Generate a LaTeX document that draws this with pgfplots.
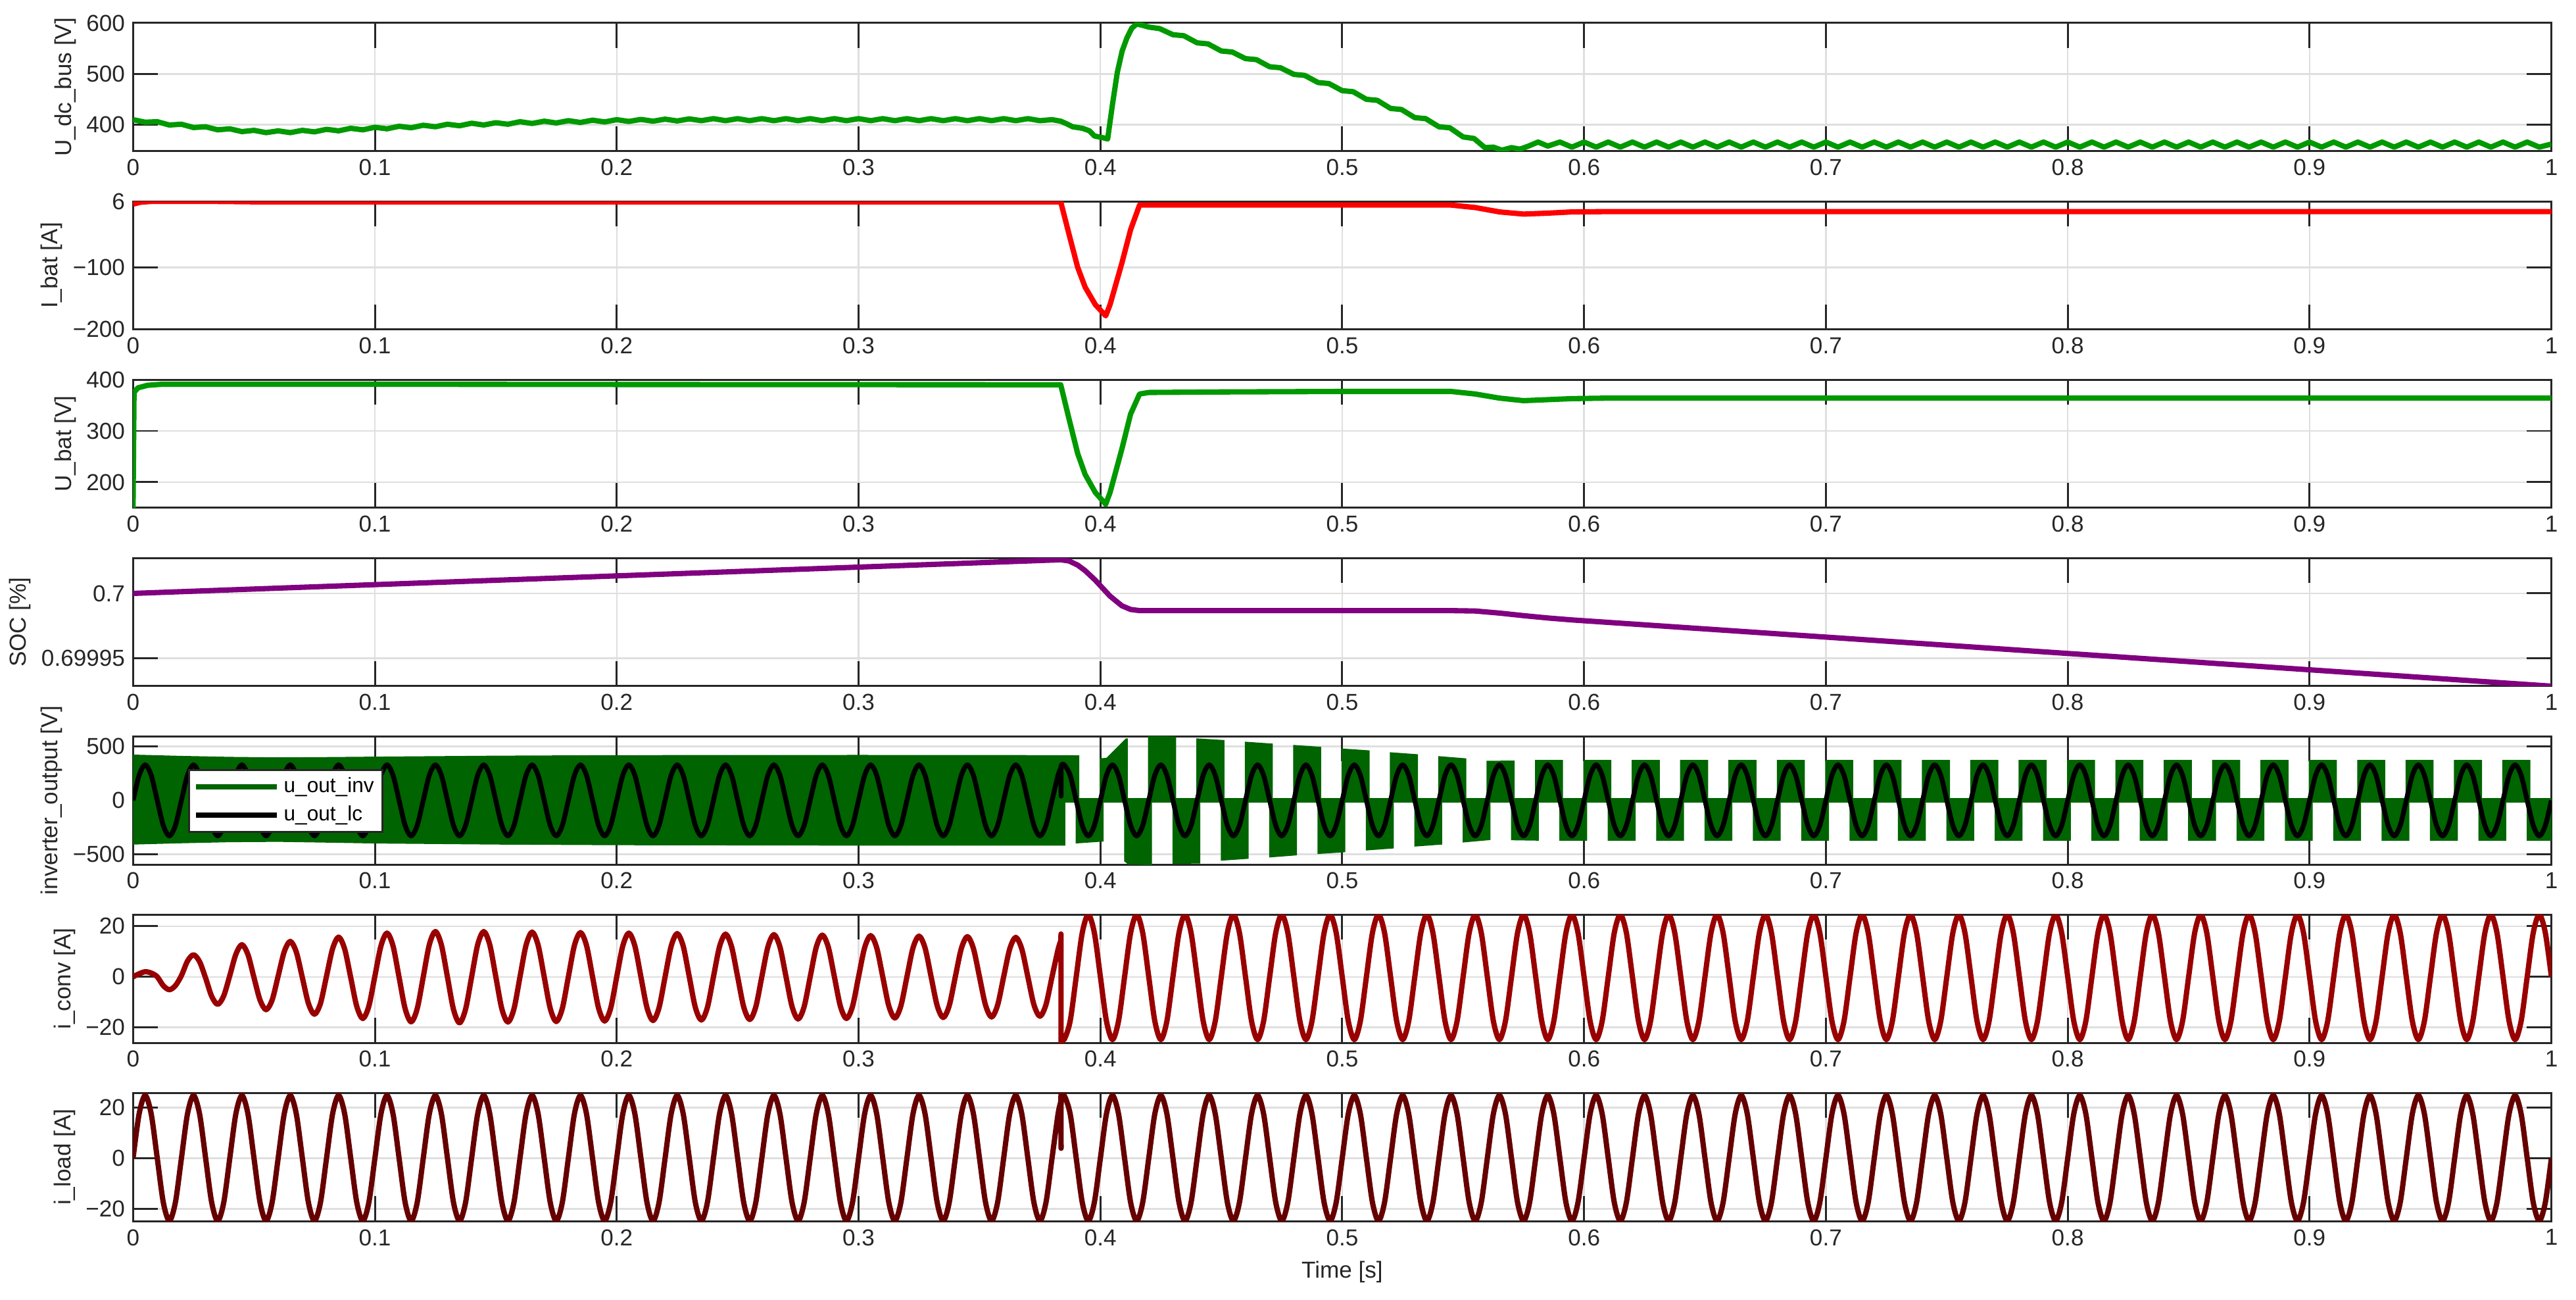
\documentclass[border=0pt]{standalone}
\usepackage{fontspec}
\setmainfont{Liberation Sans}
\usepackage{pgfplots}
\pgfplotsset{compat=1.18}
\usepackage{pgfplotstable}

\definecolor{axgray}{RGB}{38,38,38}
\definecolor{gridgray}{RGB}{223,223,223}
\definecolor{dcgreen}{RGB}{0,153,0}
\definecolor{batred}{RGB}{255,0,0}
\definecolor{socpurple}{RGB}{128,0,128}
\definecolor{invgreen}{RGB}{0,100,0}
\definecolor{convred}{RGB}{153,0,0}
\definecolor{loadred}{RGB}{102,0,0}

% 50 Hz waveforms, sampled every 2.5 ms (plus the switching instant)
\pgfplotstableread{
t ulc iconv iload
0 0 0 0
0.0025 233 1.2 17.5
0.005 330 2.0 24.8
0.0075 233 1.5 17.5
0.01 0 0 0
0.0125 -233 -3.5 -17.5
0.015 -330 -5.1 -24.8
0.0175 -233 -3.5 -17.5
0.02 0 0.5 0
0.0225 233 6.2 17.5
0.025 330 8.7 24.8
0.0275 233 6.0 17.5
0.03 0 -0.5 0
0.0325 -233 -7.7 -17.5
0.035 -330 -10.9 -24.8
0.0375 -233 -7.5 -17.5
0.04 0 0.5 0
0.0425 233 8.9 17.5
0.045 330 12.7 24.8
0.0475 233 8.8 17.5
0.05 0 -0.3 0
0.0525 -233 -9.2 -17.5
0.055 -330 -13.0 -24.8
0.0575 -233 -9.2 -17.5
0.06 0 0.3 0
0.0625 233 9.9 17.5
0.065 330 14.0 24.8
0.0675 233 9.8 17.5
0.07 0 -0.3 0
0.0725 -233 -10.5 -17.5
0.075 -330 -14.8 -24.8
0.0775 -233 -10.5 -17.5
0.08 0 0.3 0
0.0825 233 11.1 17.5
0.085 330 15.7 24.8
0.0875 233 11.0 17.5
0.09 0 -0.3 0
0.0925 -233 -11.7 -17.5
0.095 -330 -16.5 -24.8
0.0975 -233 -11.6 -17.5
0.1 0 0.3 0
0.1025 233 12.2 17.5
0.105 330 17.3 24.8
0.1075 233 12.2 17.5
0.11 0 -0.2 0
0.1125 -233 -12.6 -17.5
0.115 -330 -17.8 -24.8
0.1175 -233 -12.6 -17.5
0.12 0 0 0
0.1225 233 12.7 17.5
0.125 330 17.9 24.8
0.1275 233 12.6 17.5
0.13 0 -0.1 0
0.1325 -233 -12.9 -17.5
0.135 -330 -18.2 -24.8
0.1375 -233 -12.8 -17.5
0.14 0 0 0
0.1425 233 12.7 17.5
0.145 330 17.9 24.8
0.1475 233 12.7 17.5
0.15 0 0 0
0.1525 -233 -12.7 -17.5
0.155 -330 -17.9 -24.8
0.1575 -233 -12.7 -17.5
0.16 0 0 0
0.1625 233 12.5 17.5
0.165 330 17.7 24.8
0.1675 233 12.5 17.5
0.17 0 0 0
0.1725 -233 -12.5 -17.5
0.175 -330 -17.7 -24.8
0.1775 -233 -12.5 -17.5
0.18 0 0 0
0.1825 233 12.4 17.5
0.185 330 17.5 24.8
0.1875 233 12.4 17.5
0.19 0 0 0
0.1925 -233 -12.4 -17.5
0.195 -330 -17.5 -24.8
0.1975 -233 -12.4 -17.5
0.2 0 0 0
0.2025 233 12.2 17.5
0.205 330 17.3 24.8
0.2075 233 12.2 17.5
0.21 0 0 0
0.2125 -233 -12.2 -17.5
0.215 -330 -17.3 -24.8
0.2175 -233 -12.2 -17.5
0.22 0 0 0
0.2225 233 12.1 17.5
0.225 330 17.1 24.8
0.2275 233 12.1 17.5
0.23 0 0 0
0.2325 -233 -12.1 -17.5
0.235 -330 -17.1 -24.8
0.2375 -233 -12.1 -17.5
0.24 0 0 0
0.2425 233 11.9 17.5
0.245 330 16.9 24.8
0.2475 233 11.9 17.5
0.25 0 0 0
0.2525 -233 -11.9 -17.5
0.255 -330 -16.9 -24.8
0.2575 -233 -11.9 -17.5
0.26 0 0 0
0.2625 233 11.8 17.5
0.265 330 16.7 24.8
0.2675 233 11.8 17.5
0.27 0 0 0
0.2725 -233 -11.8 -17.5
0.275 -330 -16.7 -24.8
0.2775 -233 -11.8 -17.5
0.28 0 0 0
0.2825 233 11.7 17.5
0.285 330 16.5 24.8
0.2875 233 11.7 17.5
0.29 0 0 0
0.2925 -233 -11.7 -17.5
0.295 -330 -16.5 -24.8
0.2975 -233 -11.7 -17.5
0.3 0 0 0
0.3025 233 11.5 17.5
0.305 330 16.3 24.8
0.3075 233 11.5 17.5
0.31 0 0 0
0.3125 -233 -11.5 -17.5
0.315 -330 -16.3 -24.8
0.3175 -233 -11.5 -17.5
0.32 0 0 0
0.3225 233 11.4 17.5
0.325 330 16.1 24.8
0.3275 233 11.4 17.5
0.33 0 0 0
0.3325 -233 -11.4 -17.5
0.335 -330 -16.1 -24.8
0.3375 -233 -11.4 -17.5
0.34 0 0 0
0.3425 233 11.2 17.5
0.345 330 15.9 24.8
0.3475 233 11.2 17.5
0.35 0 0 0
0.3525 -233 -11.2 -17.5
0.355 -330 -15.9 -24.8
0.3575 -233 -11.2 -17.5
0.36 0 0 0
0.3625 233 11.0 17.5
0.365 330 15.6 24.8
0.3675 233 11.0 17.5
0.37 0 0 0
0.3725 -233 -11.0 -17.5
0.375 -330 -15.6 -24.8
0.3775 -233 -11.0 -17.5
0.38 0 0 0
0.3825 233 10.8 17.5
0.3836 299 14.2 22.4
0.3837 303 14.4 25.8
0.38375 40 -26.1 3.9
0.3838 307 -23.0 23.2
0.385 330 -24.8 24.8
0.3875 233 -17.5 17.5
0.39 0 0 0
0.3925 -233 17.4 -17.5
0.395 -330 24.6 -24.8
0.3975 -233 17.4 -17.5
0.4 0 0 0
0.4025 233 -17.5 17.5
0.405 330 -24.8 24.8
0.4075 233 -17.5 17.5
0.41 0 0 0
0.4125 -233 17.4 -17.5
0.415 -330 24.6 -24.8
0.4175 -233 17.4 -17.5
0.42 0 0 0
0.4225 233 -17.5 17.5
0.425 330 -24.8 24.8
0.4275 233 -17.5 17.5
0.43 0 0 0
0.4325 -233 17.4 -17.5
0.435 -330 24.6 -24.8
0.4375 -233 17.4 -17.5
0.44 0 0 0
0.4425 233 -17.5 17.5
0.445 330 -24.8 24.8
0.4475 233 -17.5 17.5
0.45 0 0 0
0.4525 -233 17.4 -17.5
0.455 -330 24.6 -24.8
0.4575 -233 17.4 -17.5
0.46 0 0 0
0.4625 233 -17.5 17.5
0.465 330 -24.8 24.8
0.4675 233 -17.5 17.5
0.47 0 0 0
0.4725 -233 17.4 -17.5
0.475 -330 24.6 -24.8
0.4775 -233 17.4 -17.5
0.48 0 0 0
0.4825 233 -17.5 17.5
0.485 330 -24.8 24.8
0.4875 233 -17.5 17.5
0.49 0 0 0
0.4925 -233 17.4 -17.5
0.495 -330 24.6 -24.8
0.4975 -233 17.4 -17.5
0.5 0 0 0
0.5025 233 -17.5 17.5
0.505 330 -24.8 24.8
0.5075 233 -17.5 17.5
0.51 0 0 0
0.5125 -233 17.4 -17.5
0.515 -330 24.6 -24.8
0.5175 -233 17.4 -17.5
0.52 0 0 0
0.5225 233 -17.5 17.5
0.525 330 -24.8 24.8
0.5275 233 -17.5 17.5
0.53 0 0 0
0.5325 -233 17.4 -17.5
0.535 -330 24.6 -24.8
0.5375 -233 17.4 -17.5
0.54 0 0 0
0.5425 233 -17.5 17.5
0.545 330 -24.8 24.8
0.5475 233 -17.5 17.5
0.55 0 0 0
0.5525 -233 17.4 -17.5
0.555 -330 24.6 -24.8
0.5575 -233 17.4 -17.5
0.56 0 0 0
0.5625 233 -17.5 17.5
0.565 330 -24.8 24.8
0.5675 233 -17.5 17.5
0.57 0 0 0
0.5725 -233 17.4 -17.5
0.575 -330 24.6 -24.8
0.5775 -233 17.4 -17.5
0.58 0 0 0
0.5825 233 -17.5 17.5
0.585 330 -24.8 24.8
0.5875 233 -17.5 17.5
0.59 0 0 0
0.5925 -233 17.4 -17.5
0.595 -330 24.6 -24.8
0.5975 -233 17.4 -17.5
0.6 0 0 0
0.6025 233 -17.5 17.5
0.605 330 -24.8 24.8
0.6075 233 -17.5 17.5
0.61 0 0 0
0.6125 -233 17.4 -17.5
0.615 -330 24.6 -24.8
0.6175 -233 17.4 -17.5
0.62 0 0 0
0.6225 233 -17.5 17.5
0.625 330 -24.8 24.8
0.6275 233 -17.5 17.5
0.63 0 0 0
0.6325 -233 17.4 -17.5
0.635 -330 24.6 -24.8
0.6375 -233 17.4 -17.5
0.64 0 0 0
0.6425 233 -17.5 17.5
0.645 330 -24.8 24.8
0.6475 233 -17.5 17.5
0.65 0 0 0
0.6525 -233 17.4 -17.5
0.655 -330 24.6 -24.8
0.6575 -233 17.4 -17.5
0.66 0 0 0
0.6625 233 -17.5 17.5
0.665 330 -24.8 24.8
0.6675 233 -17.5 17.5
0.67 0 0 0
0.6725 -233 17.4 -17.5
0.675 -330 24.6 -24.8
0.6775 -233 17.4 -17.5
0.68 0 0 0
0.6825 233 -17.5 17.5
0.685 330 -24.8 24.8
0.6875 233 -17.5 17.5
0.69 0 0 0
0.6925 -233 17.4 -17.5
0.695 -330 24.6 -24.8
0.6975 -233 17.4 -17.5
0.7 0 0 0
0.7025 233 -17.5 17.5
0.705 330 -24.8 24.8
0.7075 233 -17.5 17.5
0.71 0 0 0
0.7125 -233 17.4 -17.5
0.715 -330 24.6 -24.8
0.7175 -233 17.4 -17.5
0.72 0 0 0
0.7225 233 -17.5 17.5
0.725 330 -24.8 24.8
0.7275 233 -17.5 17.5
0.73 0 0 0
0.7325 -233 17.4 -17.5
0.735 -330 24.6 -24.8
0.7375 -233 17.4 -17.5
0.74 0 0 0
0.7425 233 -17.5 17.5
0.745 330 -24.8 24.8
0.7475 233 -17.5 17.5
0.75 0 0 0
0.7525 -233 17.4 -17.5
0.755 -330 24.6 -24.8
0.7575 -233 17.4 -17.5
0.76 0 0 0
0.7625 233 -17.5 17.5
0.765 330 -24.8 24.8
0.7675 233 -17.5 17.5
0.77 0 0 0
0.7725 -233 17.4 -17.5
0.775 -330 24.6 -24.8
0.7775 -233 17.4 -17.5
0.78 0 0 0
0.7825 233 -17.5 17.5
0.785 330 -24.8 24.8
0.7875 233 -17.5 17.5
0.79 0 0 0
0.7925 -233 17.4 -17.5
0.795 -330 24.6 -24.8
0.7975 -233 17.4 -17.5
0.8 0 0 0
0.8025 233 -17.5 17.5
0.805 330 -24.8 24.8
0.8075 233 -17.5 17.5
0.81 0 0 0
0.8125 -233 17.4 -17.5
0.815 -330 24.6 -24.8
0.8175 -233 17.4 -17.5
0.82 0 0 0
0.8225 233 -17.5 17.5
0.825 330 -24.8 24.8
0.8275 233 -17.5 17.5
0.83 0 0 0
0.8325 -233 17.4 -17.5
0.835 -330 24.6 -24.8
0.8375 -233 17.4 -17.5
0.84 0 0 0
0.8425 233 -17.5 17.5
0.845 330 -24.8 24.8
0.8475 233 -17.5 17.5
0.85 0 0 0
0.8525 -233 17.4 -17.5
0.855 -330 24.6 -24.8
0.8575 -233 17.4 -17.5
0.86 0 0 0
0.8625 233 -17.5 17.5
0.865 330 -24.8 24.8
0.8675 233 -17.5 17.5
0.87 0 0 0
0.8725 -233 17.4 -17.5
0.875 -330 24.6 -24.8
0.8775 -233 17.4 -17.5
0.88 0 0 0
0.8825 233 -17.5 17.5
0.885 330 -24.8 24.8
0.8875 233 -17.5 17.5
0.89 0 0 0
0.8925 -233 17.4 -17.5
0.895 -330 24.6 -24.8
0.8975 -233 17.4 -17.5
0.9 0 0 0
0.9025 233 -17.5 17.5
0.905 330 -24.8 24.8
0.9075 233 -17.5 17.5
0.91 0 0 0
0.9125 -233 17.4 -17.5
0.915 -330 24.6 -24.8
0.9175 -233 17.4 -17.5
0.92 0 0 0
0.9225 233 -17.5 17.5
0.925 330 -24.8 24.8
0.9275 233 -17.5 17.5
0.93 0 0 0
0.9325 -233 17.4 -17.5
0.935 -330 24.6 -24.8
0.9375 -233 17.4 -17.5
0.94 0 0 0
0.9425 233 -17.5 17.5
0.945 330 -24.8 24.8
0.9475 233 -17.5 17.5
0.95 0 0 0
0.9525 -233 17.4 -17.5
0.955 -330 24.6 -24.8
0.9575 -233 17.4 -17.5
0.96 0 0 0
0.9625 233 -17.5 17.5
0.965 330 -24.8 24.8
0.9675 233 -17.5 17.5
0.97 0 0 0
0.9725 -233 17.4 -17.5
0.975 -330 24.6 -24.8
0.9775 -233 17.4 -17.5
0.98 0 0 0
0.9825 233 -17.5 17.5
0.985 330 -24.8 24.8
0.9875 233 -17.5 17.5
0.99 0 0 0
0.9925 -233 17.4 -17.5
0.995 -330 24.6 -24.8
0.9975 -233 17.4 -17.5
1 0 0 0
}\wavetab

\pgfplotsset{
  panel/.style={
    scale only axis, width=368mm, height=19.5mm,
    anchor=north west,
    xmin=0, xmax=1,
    xtick={0,0.1,0.2,0.3,0.4,0.5,0.6,0.7,0.8,0.9,1},
    xticklabels={0,0.1,0.2,0.3,0.4,0.5,0.6,0.7,0.8,0.9,1},
    xmajorgrids, ymajorgrids,
    major grid style={line width=0.7pt, draw=gridgray},
    axis line style={line width=0.85pt, draw=axgray},
    tick style={line width=0.85pt, draw=axgray},
    major tick length=3.8mm,
    tick align=inside,
    ticklabel style={font=\fontsize{10}{11}\selectfont, text=axgray},
    label style={font=\fontsize{10}{11}\selectfont, text=axgray},
    ylabel style={inner sep=1pt},
    every axis plot/.append style={line width=2.3pt, line join=round},
  },
}

\begin{document}
\begin{tikzpicture}

% U_dc_bus
\begin{axis}[panel, at={(0mm,0mm)},
  ymin=348, ymax=600, ytick={400,500,600}, yticklabels={400,500,600},
  ylabel={U\_dc\_bus [V]}]
\addplot[dcgreen] coordinates {
(0,410)(0.005,405)(0.01,406)(0.015,399.5)(0.02,401)(0.025,394.5)(0.03,396)(0.035,390)
(0.04,392)(0.045,386.5)(0.05,389)(0.055,384.5)(0.06,388)(0.065,384.5)(0.07,389)(0.075,386)
(0.08,391)(0.085,388)(0.09,393)(0.095,390)(0.1,395)(0.105,392)(0.11,397)(0.115,394)
(0.12,399)(0.125,396)(0.13,401)(0.135,398)(0.14,403)(0.145,399.5)(0.15,404)(0.155,401)
(0.16,406)(0.165,402.5)(0.17,407)(0.175,403.5)(0.18,408)(0.185,404.5)(0.19,409)(0.195,405.5)
(0.2,410)(0.205,406.5)(0.21,410.5)(0.215,407)(0.22,411)(0.225,407.5)(0.23,411.5)(0.235,408)
(0.24,412)(0.245,408)(0.25,412)(0.255,408)(0.26,412)(0.265,408)(0.27,412)(0.275,408)
(0.28,412)(0.285,408)(0.29,412)(0.295,408)(0.3,412)(0.305,408)(0.31,412)(0.315,408)
(0.32,412)(0.325,408)(0.33,412)(0.335,408)(0.34,412)(0.345,408)(0.35,412)(0.355,408)
(0.36,412)(0.365,408)(0.37,412)(0.375,408)(0.38,410)(0.3836,407)(0.386,402)(0.3885,396)
(0.3926,393)(0.3955,388)(0.3975,378)(0.4015,374)(0.403,372)(0.405,440)(0.407,503)(0.409,545)
(0.411,571)(0.413,590)(0.415,598)(0.417,596)
(0.42,592)(0.4245,589)(0.43,577)(0.4345,575)(0.44,561)(0.4445,559)(0.45,545)(0.4545,543)
(0.46,530)(0.4645,528)(0.47,514)(0.4745,512)(0.48,499)(0.4845,497)(0.49,483)(0.4945,481)
(0.5,467)(0.5045,465)(0.51,450)(0.5145,448)(0.52,432)(0.5245,430)(0.53,414)(0.5345,412)
(0.54,396)(0.5445,394)(0.55,376)(0.5545,373)(0.559,355)(0.5625,356)(0.566,350)(0.57,355)
(0.5735,352)(0.577,358)(0.581,366)(0.585,358)
(0.59,366)(0.595,356)(0.6,366)(0.605,356)(0.61,366)(0.615,356)(0.62,366)(0.625,356)
(0.63,366)(0.635,356)(0.64,366)(0.645,356)(0.65,366)(0.655,356)(0.66,366)(0.665,356)
(0.67,366)(0.675,356)(0.68,366)(0.685,356)(0.69,366)(0.695,356)(0.7,366)(0.705,356)
(0.71,366)(0.715,356)(0.72,366)(0.725,356)(0.73,366)(0.735,356)(0.74,366)(0.745,356)
(0.75,366)(0.755,356)(0.76,366)(0.765,356)(0.77,366)(0.775,356)(0.78,366)(0.785,356)
(0.79,366)(0.795,356)(0.8,366)(0.805,356)(0.81,366)(0.815,356)(0.82,366)(0.825,356)
(0.83,366)(0.835,356)(0.84,366)(0.845,356)(0.85,366)(0.855,356)(0.86,366)(0.865,356)
(0.87,366)(0.875,356)(0.88,366)(0.885,356)(0.89,366)(0.895,356)(0.9,366)(0.905,356)
(0.91,366)(0.915,356)(0.92,366)(0.925,356)(0.93,366)(0.935,356)(0.94,366)(0.945,356)
(0.95,366)(0.955,356)(0.96,366)(0.965,356)(0.97,366)(0.975,356)(0.98,366)(0.985,356)
(0.99,366)(0.995,356)(1,362)
};
\end{axis}

% I_bat
\begin{axis}[panel, at={(0mm,-27.125mm)},
  ymin=-200, ymax=6, ytick={-200,-100,6}, yticklabels={−200,−100,6},
  ylabel={I\_bat [A]}]
\addplot[batred] coordinates {
(0,1.5)(0.003,4.5)(0.008,6)(0.03,6)(0.05,5.2)(0.3836,5.2)(0.387,-46.5)(0.3906,-100)
(0.3937,-132)(0.3979,-160)(0.4022,-178)(0.404,-160)(0.4089,-93)(0.4125,-39.5)(0.4162,0)
(0.545,0)(0.555,-4)(0.565,-11)(0.575,-14.5)(0.585,-13)(0.595,-11)(0.61,-10.5)(1,-10.5)
};
\end{axis}

% U_bat
\begin{axis}[panel, at={(0mm,-54.25mm)},
  ymin=150, ymax=400, ytick={200,300,400}, yticklabels={200,300,400},
  ylabel={U\_bat [V]}]
\addplot[dcgreen] coordinates {
(0,150)(0.0004,375)(0.002,384)(0.006,389)(0.012,391)(0.1,391)(0.2,390.5)(0.3836,390)
(0.387,324)(0.3906,256)(0.3937,215)(0.3979,180)(0.4022,157)(0.404,180)(0.4089,265)
(0.4125,333)(0.4162,372)(0.42,375)(0.45,376)(0.5,377)(0.545,377)(0.555,372)(0.565,364)
(0.575,359)(0.585,361)(0.595,363)(0.61,364)(1,364)
};
\end{axis}

% SOC, stored as (SOC - 0.7) x 1e5
\begin{axis}[panel, at={(0mm,-81.375mm)},
  ymin=-7.17, ymax=2.74, ytick={-5,0}, yticklabels={0.69995,0.7},
  ylabel={SOC [\%]}]
\addplot[socpurple] coordinates {
(0,0)(0.3836,2.60)(0.387,2.51)(0.3906,2.19)(0.3937,1.76)(0.3979,1.02)(0.4022,0.15)
(0.404,-0.21)(0.4089,-0.96)(0.4125,-1.24)(0.4162,-1.33)(0.545,-1.33)(0.555,-1.36)
(0.565,-1.52)(0.575,-1.72)(0.585,-1.90)(0.595,-2.05)(1,-7.17)
};
\end{axis}

% inverter output
\begin{axis}[panel, at={(0mm,-108.5mm)},
  ymin=-595, ymax=595, ytick={-500,0,500}, yticklabels={−500,0,500},
  ylabel={inverter\_output [V]},
  legend style={at={(0.0228,0.743)}, anchor=north west, draw=axgray,
    line width=0.85pt, fill=white, inner xsep=0.6mm, inner ysep=0.4mm,
    font=\fontsize{9}{10}\selectfont,
    nodes={inner sep=0.7mm, text height=2.3mm, text depth=0.6mm}},
  legend cell align=left,
  legend image code/.code={\draw[#1, line width=2.3pt] (0mm,0mm) -- (12.3mm,0mm);}]
% bipolar switching band
\addplot[fill=invgreen, draw=none, forget plot] coordinates {
(0,425)(0.02,413)(0.04,404)(0.06,399)(0.08,402)(0.1,406)(0.15,415)(0.2,420)(0.3,422)(0.3855,420)
(0.3855,-420)(0.3,-420)(0.2,-416)(0.15,-410)(0.1,-400)(0.08,-392)(0.06,-385)(0.04,-388)(0.02,-398)(0,-410)
};
% unipolar switching blocks
\addplot[fill=invgreen, draw=none, forget plot] coordinates {
(0.3855,0)(0.3855,420)(0.3913,418)(0.3913,0)
(0.3898,0)(0.3898,-400)(0.4013,-382)(0.4013,0)
(0.3997,0)(0.3997,390)(0.4025,395)(0.4105,575)(0.4113,575)(0.4113,0)
(0.4098,0)(0.4098,-565)(0.4115,-595)(0.4213,-602)(0.4213,0)
(0.4197,0)(0.4197,604)(0.4313,590)(0.4313,0)
(0.4298,0)(0.4298,-590)(0.4413,-586)(0.4413,0)
(0.4397,0)(0.4397,576)(0.4513,560)(0.4513,0)
(0.4498,0)(0.4498,-560)(0.4613,-542)(0.4613,0)
(0.4597,0)(0.4597,545)(0.4713,527)(0.4713,0)
(0.4698,0)(0.4698,-530)(0.4813,-510)(0.4813,0)
(0.4797,0)(0.4797,515)(0.4913,497)(0.4913,0)
(0.4898,0)(0.4898,-498)(0.5013,-481)(0.5013,0)
(0.4997,0)(0.4997,482)(0.5113,464)(0.5113,0)
(0.5098,0)(0.5098,-465)(0.5213,-446)(0.5213,0)
(0.5197,0)(0.5197,447)(0.5313,428)(0.5313,0)
(0.5298,0)(0.5298,-429)(0.5413,-410)(0.5413,0)
(0.5397,0)(0.5397,411)(0.5513,390)(0.5513,0)
(0.5498,0)(0.5498,-391)(0.5613,-368)(0.5613,0)
(0.5597,0)(0.5597,367)(0.5713,370)(0.5713,0)
(0.5698,0)(0.5698,-370)(0.5813,-374)(0.5813,0)
(0.5797,0)(0.5797,375)(0.5913,375)(0.5913,0)(0.5898,0)(0.5898,-375)(0.6013,-375)(0.6013,0)
(0.5997,0)(0.5997,375)(0.6113,375)(0.6113,0)(0.6098,0)(0.6098,-375)(0.6213,-375)(0.6213,0)
(0.6197,0)(0.6197,375)(0.6313,375)(0.6313,0)(0.6298,0)(0.6298,-375)(0.6413,-375)(0.6413,0)
(0.6397,0)(0.6397,375)(0.6513,375)(0.6513,0)(0.6498,0)(0.6498,-375)(0.6613,-375)(0.6613,0)
(0.6597,0)(0.6597,375)(0.6713,375)(0.6713,0)(0.6698,0)(0.6698,-375)(0.6813,-375)(0.6813,0)
(0.6797,0)(0.6797,375)(0.6913,375)(0.6913,0)(0.6898,0)(0.6898,-375)(0.7013,-375)(0.7013,0)
(0.6997,0)(0.6997,375)(0.7113,375)(0.7113,0)(0.7098,0)(0.7098,-375)(0.7213,-375)(0.7213,0)
(0.7197,0)(0.7197,375)(0.7313,375)(0.7313,0)(0.7298,0)(0.7298,-375)(0.7413,-375)(0.7413,0)
(0.7397,0)(0.7397,375)(0.7513,375)(0.7513,0)(0.7498,0)(0.7498,-375)(0.7613,-375)(0.7613,0)
(0.7597,0)(0.7597,375)(0.7713,375)(0.7713,0)(0.7698,0)(0.7698,-375)(0.7813,-375)(0.7813,0)
(0.7797,0)(0.7797,375)(0.7913,375)(0.7913,0)(0.7898,0)(0.7898,-375)(0.8013,-375)(0.8013,0)
(0.7997,0)(0.7997,375)(0.8113,375)(0.8113,0)(0.8098,0)(0.8098,-375)(0.8213,-375)(0.8213,0)
(0.8197,0)(0.8197,375)(0.8313,375)(0.8313,0)(0.8298,0)(0.8298,-375)(0.8413,-375)(0.8413,0)
(0.8397,0)(0.8397,375)(0.8513,375)(0.8513,0)(0.8498,0)(0.8498,-375)(0.8613,-375)(0.8613,0)
(0.8597,0)(0.8597,375)(0.8713,375)(0.8713,0)(0.8698,0)(0.8698,-375)(0.8813,-375)(0.8813,0)
(0.8797,0)(0.8797,375)(0.8913,375)(0.8913,0)(0.8898,0)(0.8898,-375)(0.9013,-375)(0.9013,0)
(0.8997,0)(0.8997,375)(0.9113,375)(0.9113,0)(0.9098,0)(0.9098,-375)(0.9213,-375)(0.9213,0)
(0.9197,0)(0.9197,375)(0.9313,375)(0.9313,0)(0.9298,0)(0.9298,-375)(0.9413,-375)(0.9413,0)
(0.9397,0)(0.9397,375)(0.9513,375)(0.9513,0)(0.9498,0)(0.9498,-375)(0.9613,-375)(0.9613,0)
(0.9597,0)(0.9597,375)(0.9713,375)(0.9713,0)(0.9698,0)(0.9698,-375)(0.9813,-375)(0.9813,0)
(0.9797,0)(0.9797,375)(0.9913,375)(0.9913,0)(0.9898,0)(0.9898,-375)(1,-375)(1,0)
};
\addplot[invgreen, line width=2.2pt] coordinates {(0.3855,0) (1,0)};
\addlegendentry{u\_out\_inv}
\addplot[black, line width=2.1pt, smooth] table[x=t, y=ulc] {\wavetab};
\addlegendentry{u\_out\_lc}
\end{axis}

% i_conv
\begin{axis}[panel, at={(0mm,-135.625mm)},
  ymin=-26.1, ymax=24.6, ytick={-20,0,20}, yticklabels={−20,0,20},
  ylabel={i\_conv [A]}]
\addplot[convred, smooth] table[x=t, y=iconv] {\wavetab};
\end{axis}

% i_load
\begin{axis}[panel, at={(0mm,-162.75mm)},
  ymin=-24.9, ymax=25.8, ytick={-20,0,20}, yticklabels={−20,0,20},
  ylabel={i\_load [A]}, xlabel={Time [s]}]
\addplot[loadred, smooth] table[x=t, y=iload] {\wavetab};
\end{axis}

\pgfresetboundingbox
\path[use as bounding box] (-20.25mm,3.5mm) rectangle (371.75mm,-194.25mm);
\end{tikzpicture}
\end{document}
